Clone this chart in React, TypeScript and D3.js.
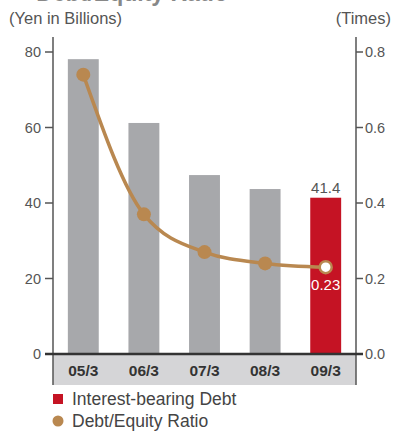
import React from "react";
import * as d3 from "d3";

const categories = ["05/3", "06/3", "07/3", "08/3", "09/3"];
const debtValues = [78.1, 61.2, 47.4, 43.7, 41.4];
const ratioValues = [0.74, 0.37, 0.27, 0.24, 0.23];
const leftTicks = [0, 20, 40, 60, 80];
const rightTicks = [0, 0.2, 0.4, 0.6, 0.8];

const W = 393;
const H = 431;
const left = 53;
const right = 356;
const top = 52;
const bottom = 354;
const bandBottom = 385;

const GREY = "#a7a8ab";
const RED = "#c51324";
const BROWN = "#b98850";
const TEXT = "#555";
const FONT = "'Liberation Sans', Arial, sans-serif";

export default function App() {
  const x = d3.scaleBand<string>().domain(categories).range([left, right]).paddingInner(0.49).paddingOuter(0.245);
  const yL = d3.scaleLinear().domain([0, 80]).range([bottom, top]);
  const yR = d3.scaleLinear().domain([0, 0.8]).range([bottom, top]);
  const cx = (c: string) => (x(c) ?? 0) + x.bandwidth() / 2;

  const line = d3
    .line<number>()
    .x((_, i) => cx(categories[i]))
    .y((d) => yR(d))
    .curve(d3.curveMonotoneX);

  const last = categories.length - 1;

  return (
    <svg width={W} height={H} style={{ position: "absolute", left: 0, top: 0 }} fontFamily={FONT}>
      <rect width={W} height={H} fill="#fff" />
      {/* heading, mostly above the frame */}
      <text x={228} y={1} textAnchor="end" fontSize={23} fontWeight="bold" fill="#888">
        Debt/Equity Ratio
      </text>
      <text x={9} y={24} fontSize={16.5} fill={TEXT}>(Yen in Billions)</text>
      <text x={391} y={24} fontSize={16.5} fill={TEXT} textAnchor="end">(Times)</text>

      {/* category band */}
      <rect x={left} y={bottom} width={right - left} height={bandBottom - bottom} fill="#d5d5d7" />
      {categories.map((c) => (
        <text key={c} x={cx(c)} y={376} textAnchor="middle" fontSize={15.5} fontWeight="bold" fill="#333">
          {c}
        </text>
      ))}

      {/* bars */}
      {debtValues.map((v, i) => (
        <rect
          key={categories[i]}
          x={x(categories[i])}
          y={yL(v)}
          width={x.bandwidth()}
          height={yL(0) - yL(v)}
          fill={i === last ? RED : GREY}
        />
      ))}
      <text x={cx(categories[last])} y={yL(debtValues[last]) - 5} textAnchor="middle" fontSize={15} fill={TEXT}>
        {debtValues[last].toFixed(1)}
      </text>

      {/* axes */}
      <line x1={left} x2={left} y1={37} y2={bandBottom} stroke={TEXT} strokeWidth={1.5} />
      <line x1={right} x2={right} y1={37} y2={bandBottom} stroke={TEXT} strokeWidth={1.5} />
      {leftTicks.map((t) => (
        <g key={"l" + t}>
          <line x1={left - 8} x2={left} y1={yL(t)} y2={yL(t)} stroke={TEXT} strokeWidth={1.5} />
          <text x={left - 12} y={yL(t) + 5} textAnchor="end" fontSize={14.5} fill={TEXT}>
            {t}
          </text>
        </g>
      ))}
      {rightTicks.map((t) => (
        <g key={"r" + t}>
          <line x1={right} x2={right + 7} y1={yR(t)} y2={yR(t)} stroke={TEXT} strokeWidth={1.5} />
          <text x={right + 9} y={yR(t) + 5} fontSize={14.5} fill={TEXT}>
            {t.toFixed(1)}
          </text>
        </g>
      ))}
      <line x1={left - 8} x2={right + 7} y1={bottom} y2={bottom} stroke="#333" strokeWidth={2.5} />

      {/* ratio line */}
      <path d={line(ratioValues) ?? ""} fill="none" stroke={BROWN} strokeWidth={3.5} />
      {ratioValues.map((v, i) => (
        <circle
          key={"p" + i}
          cx={cx(categories[i])}
          cy={yR(v)}
          r={i === last ? 6 : 7}
          fill={i === last ? "#fff" : BROWN}
          stroke={BROWN}
          strokeWidth={i === last ? 2.5 : 0}
        />
      ))}
      <text x={cx(categories[last])} y={yR(ratioValues[last]) + 23} textAnchor="middle" fontSize={15} fill="#fff">
        {ratioValues[last].toFixed(2)}
      </text>

      {/* legend */}
      <rect x={53} y={394} width={10} height={10} fill={RED} />
      <text x={72} y={405} fontSize={17.5} fill="#444">Interest-bearing Debt</text>
      <circle cx={58} cy={421} r={5.5} fill={BROWN} />
      <text x={72} y={427} fontSize={17.5} fill="#444">Debt/Equity Ratio</text>
    </svg>
  );
}
